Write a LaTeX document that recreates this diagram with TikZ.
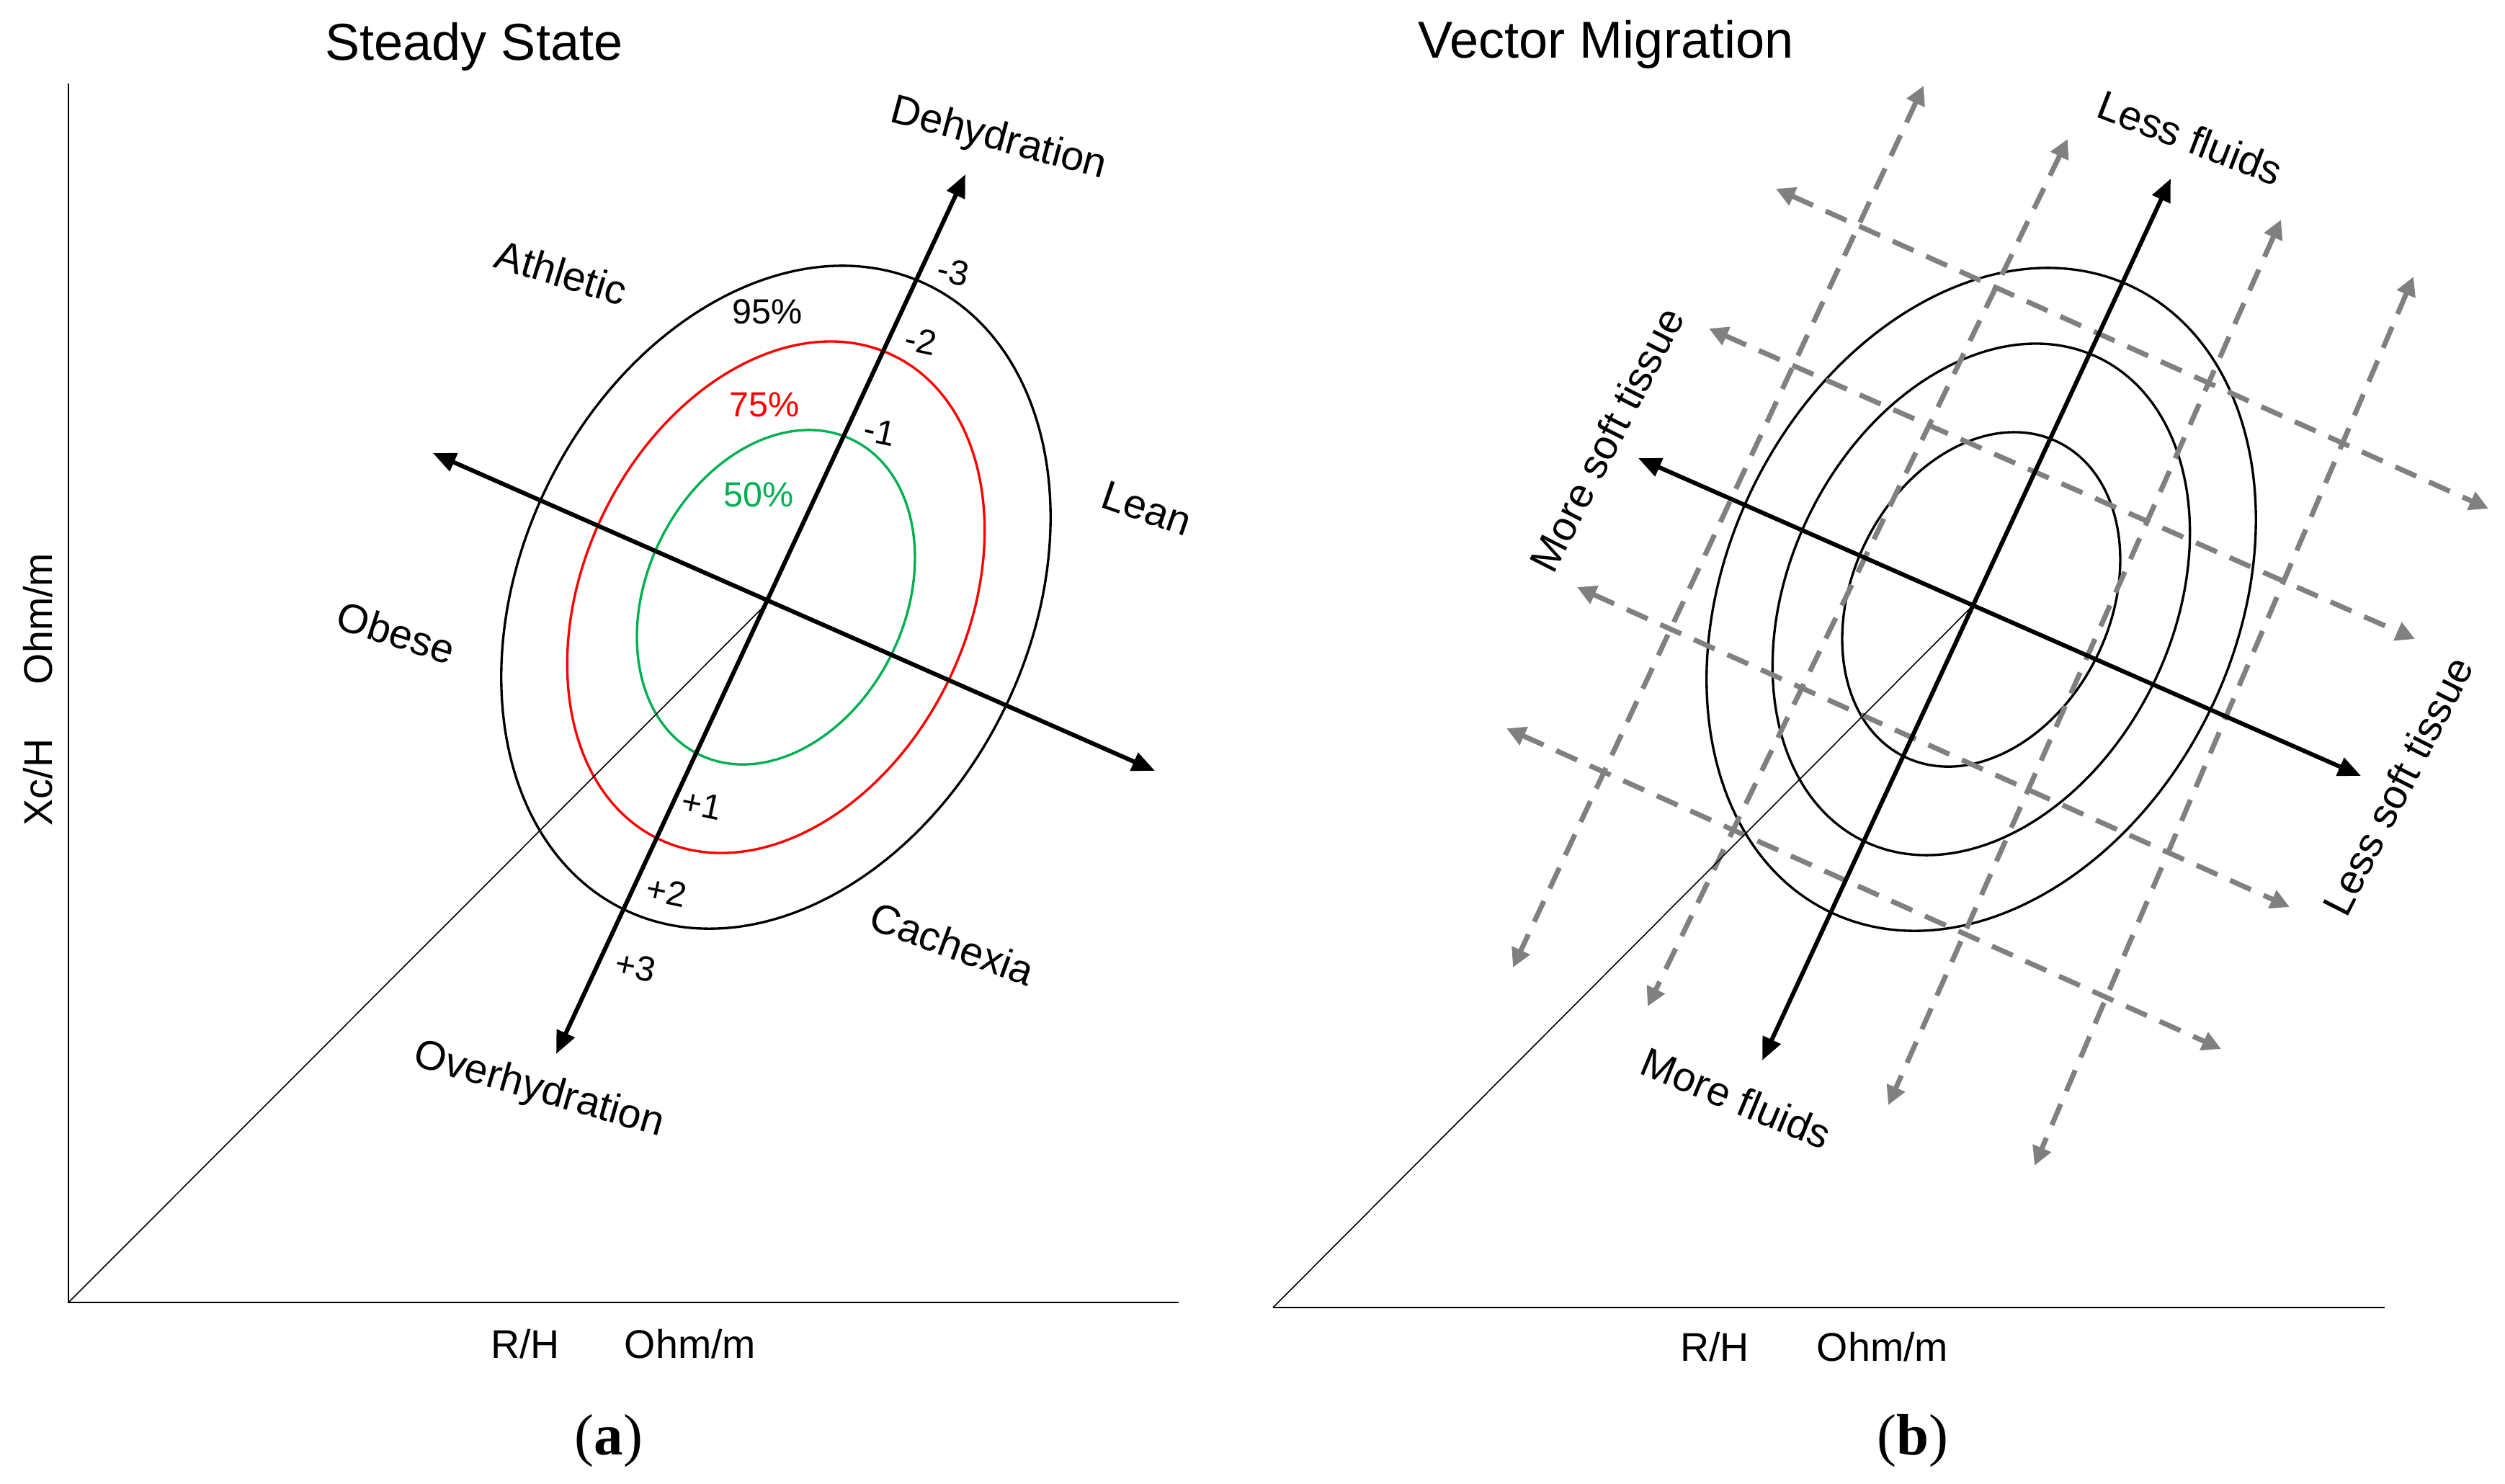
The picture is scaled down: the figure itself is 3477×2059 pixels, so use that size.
\documentclass[tikz,border=0pt]{standalone}
\usepackage{fontspec}
\setmainfont{Liberation Sans}
\newfontfamily\capfont{Liberation Serif}
\usetikzlibrary{arrows.meta}

\definecolor{ringred}{RGB}{255,0,0}
\definecolor{ringgreen}{RGB}{0,176,80}
\definecolor{migrgray}{RGB}{128,128,128}

\begin{document}
\begin{tikzpicture}[x=0.01cm, y=-0.01cm,
    ttl/.style={font=\fontsize{20.5}{24}\selectfont, anchor=base},
    lbl/.style={font=\fontsize{16.2}{19}\selectfont},
    unit/.style={font=\fontsize{15.8}{19}\selectfont, anchor=base},
    num/.style={font=\fontsize{13.8}{16}\selectfont},
    sub/.style={font=\capfont\fontsize{23}{27}\selectfont, anchor=base},
    axis/.style={line width=0.8pt},
    diag/.style={line width=0.45pt},
    ring/.style={line width=0.95pt},
    vec/.style={line width=1.7pt, >={Triangle[length=9pt, width=7.5pt]}, <->},
    migr/.style={migrgray, line width=2pt, dash pattern=on 9pt off 5.5pt,
        >={Triangle[length=7.5pt, width=7.5pt]}, <->}]

    \useasboundingbox (0,0) rectangle (3477,2059);

    % titles
    \node[ttl] (ttla) at (658,83) {Steady State};
    \node[ttl] (ttlb) at (2229,80) {Vector Migration};

    % axes (a)
    \coordinate (Oa) at (95,1808);
    \coordinate (Ya) at (95,116);
    \coordinate (Xa) at (1636,1808);
    \draw[axis] (Ya) -- (Oa) -- (Xa);
    \node[unit, rotate=90] (xca) at (72,1086) {Xc/H};
    \node[unit, rotate=90] (ohmya) at (72,859) {Ohm/m};
    \node[unit] (rha) at (729,1885) {R/H};
    \node[unit] (ohmxa) at (958,1885) {Ohm/m};
    \node[sub] (capa) at (845,2019) {(\textbf{a})};

    % tolerance ellipses (a)
    \coordinate (Ea) at (1077,829);
    \draw[ring, rotate around={64:(Ea)}] (Ea) ellipse [x radius=482, y radius=353];
    \draw[ring, ringred, rotate around={64:(Ea)}] (Ea) ellipse [x radius=373, y radius=266];
    \draw[ring, ringgreen, rotate around={64:(Ea)}] (Ea) ellipse [x radius=243, y radius=179];

    % vectors (a)
    \coordinate (Ca) at (1065,837);
    \coordinate (Da) at (1340,242);
    \coordinate (Ha) at (772,1463);
    \coordinate (La) at (601,629);
    \coordinate (Ra) at (1603,1070);
    \draw[diag] (Oa) -- (Ca);
    \draw[vec] (Ha) -- (Da);
    \draw[vec] (La) -- (Ra);

    \node[lbl, rotate=-15] (dehyd) at (1386,194) {Dehydration};
    \node[lbl, rotate=-17] (athl) at (779,378) {Athletic};
    \node[lbl, rotate=-19] (lean) at (1592,706) {Lean};
    \node[lbl, rotate=-18] (obese) at (550,878) {Obese};
    \node[lbl, rotate=-20] (cach) at (1322,1310) {Cachexia};
    \node[lbl, rotate=-16] (overhyd) at (748,1514) {Overhydration};

    \node[num] (p95) at (1065,433) {95\%};
    \node[num, ringred] (p75) at (1061,562) {75\%};
    \node[num, ringgreen] (p50) at (1053,687) {50\%};

    % scale marks
    \node[num, rotate=-12] (m3) at (1323,377) {-3};
    \node[num, rotate=-12] (m2) at (1278,473) {-2};
    \node[num, rotate=-12] (m1) at (1221,599) {-1};
    \node[num, rotate=-12] (p1) at (974,1117) {+1};
    \node[num, rotate=-12] (p2) at (925,1238) {+2};
    \node[num, rotate=-12] (p3) at (882,1342) {+3};

    % axes (b)
    \coordinate (Ob) at (1767,1815);
    \coordinate (Xb) at (3310,1815);
    \draw[axis] (Ob) -- (Xb);
    \node[unit] (rhb) at (2380,1889) {R/H};
    \node[unit] (ohmxb) at (2613,1889) {Ohm/m};
    \node[sub] (capb) at (2655,2019) {(\textbf{b})};

    % tolerance ellipses (b)
    \coordinate (Eb) at (2750,832);
    \draw[ring, rotate around={64:(Eb)}] (Eb) ellipse [x radius=482, y radius=353];
    \draw[ring, rotate around={64:(Eb)}] (Eb) ellipse [x radius=373, y radius=266];
    \draw[ring, rotate around={64:(Eb)}] (Eb) ellipse [x radius=243, y radius=179];

    % migration vectors
    \foreach \n/\xa/\ya/\xb/\yb in {1/2670/119/2100/1343, 2/2870/193/2287/1397,
        3/3166/305/2621/1534, 4/3350/384/2824/1618, 5/2465/262/3454/706,
        6/2372/456/3352/887, 7/2189/815/3178/1259, 8/2091/1011/3083/1456} {
        \coordinate (ma\n) at (\xa,\ya);
        \coordinate (mb\n) at (\xb,\yb);
        \draw[migr] (ma\n) -- (mb\n);
    }

    % vectors (b)
    \coordinate (Cb) at (2738,841);
    \coordinate (Db) at (3013,248);
    \coordinate (Hb) at (2446,1472);
    \coordinate (Lb) at (2274,636);
    \coordinate (Rb) at (3277,1077);
    \draw[diag] (Ob) -- (Cb);
    \draw[vec] (Hb) -- (Db);
    \draw[vec] (Lb) -- (Rb);

    \node[lbl, rotate=-21] (lessfl) at (3040,191) {Less fluids};
    \node[lbl, rotate=63] (moret) at (2230,610) {More soft tissue};
    \node[lbl, rotate=63] (lesst) at (3328,1091) {Less soft tissue};
    \node[lbl, rotate=-22.5] (morefl) at (2410,1524) {More fluids};
\end{tikzpicture}
\end{document}
